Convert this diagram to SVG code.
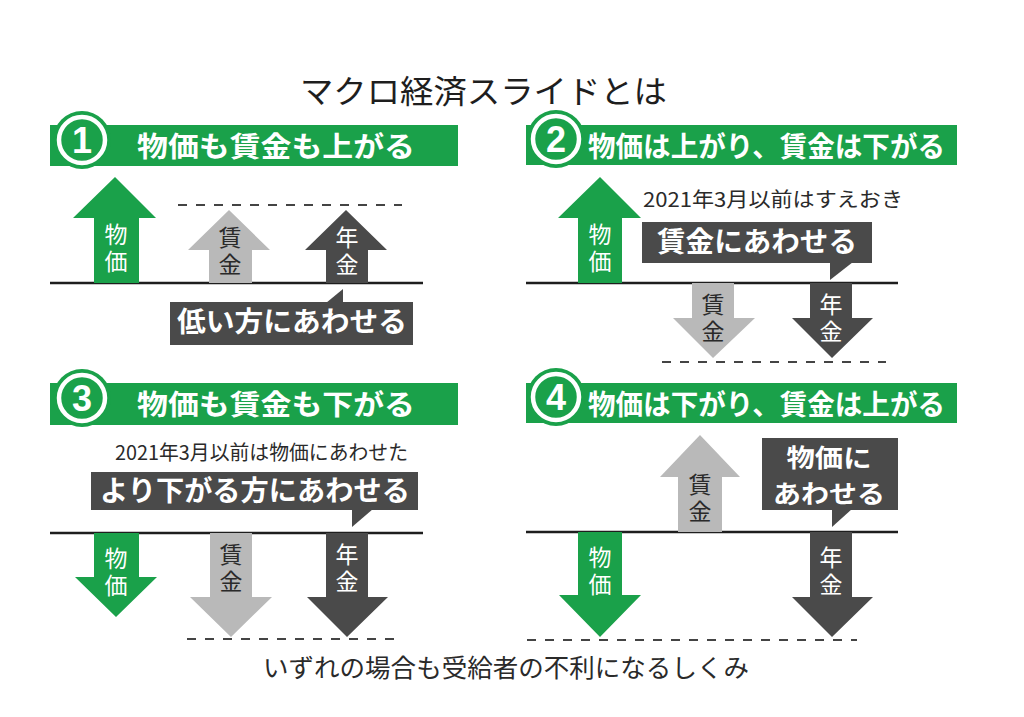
<svg xmlns="http://www.w3.org/2000/svg" width="1024" height="717" viewBox="0 0 1024 717">
<style>
.bg{fill:#ffffff}
.grn{fill:#1aa14a}
.lg{fill:#b9b9b9}
.dk{fill:#4a4a4a}
.base{stroke:#1e1e1e;stroke-width:2.5;fill:none}
.dash{stroke:#444;stroke-width:2;stroke-dasharray:9 9;fill:none}
.t{font-family:"Noto Sans CJK JP","Noto Sans CJK SC",sans-serif}
.title{font-size:32px;fill:#1e1e1e}
.ban{font-size:28px;font-weight:bold;fill:#fff}
.num{font-family:"Liberation Sans",Arial,sans-serif;font-size:36px;font-weight:bold;fill:#fff;text-anchor:middle}
.call{font-size:28px;font-weight:bold;fill:#fff}
.call2{font-size:25px;font-weight:bold;fill:#fff;text-anchor:middle}
.note{font-size:20px;fill:#2a2a2a}
.v{writing-mode:vertical-rl;text-anchor:middle;font-size:23px;letter-spacing:4px}
.lbw{fill:#fff}
.lbd{fill:#2a2a2a}
.foot{font-size:25px;fill:#2a2a2a}
</style>
<rect class="bg" x="0" y="0" width="1024" height="717"/>
<g id="title"><text class="t title" x="300" y="103" textLength="367" lengthAdjust="spacingAndGlyphs">マクロ経済スライドとは</text></g>

<g id="guides">
<line class="base" x1="50" y1="283" x2="423" y2="283"/>
<line class="dash" x1="178" y1="205" x2="402" y2="205"/>
<line class="base" x1="526" y1="283" x2="898" y2="283"/>
<line class="dash" x1="662" y1="362" x2="886" y2="362"/>
<line class="base" x1="50" y1="533" x2="423" y2="533"/>
<line class="dash" x1="187" y1="639" x2="400" y2="639"/>
<line class="base" x1="526" y1="532" x2="898" y2="532"/>
<line class="dash" x1="527" y1="640" x2="857" y2="640"/>
</g>

<!-- Panel 1 -->
<g id="banner1">
<rect class="grn" x="50" y="125" width="408" height="41"/>
<circle class="grn" cx="82" cy="140" r="29"/>
<circle cx="82" cy="140" r="23" fill="none" stroke="#fff" stroke-width="4.5"/>
<text class="num" x="82" y="153">1</text>
<text class="t ban" x="137" y="157" textLength="278" lengthAdjust="spacingAndGlyphs">物価も賃金も上がる</text>
</g>
<g id="p1-price"><polygon class="grn" points="94,283 94,218 73,218 115,177 156,218 139,218 139,283"/>
<text class="t v lbw" x="116" y="250">物価</text></g>
<g id="p1-wage"><polygon class="lg" points="209,283 209,250 188,250 229,210 270,250 252,250 252,283"/>
<text class="t v lbd" x="230" y="253">賃金</text></g>
<g id="p1-pension"><polygon class="dk" points="326,283 326,250 305,250 346,210 387,250 368,250 368,283"/>
<text class="t v lbw" x="347" y="253">年金</text></g>
<g id="p1-callout"><rect class="dk" x="170" y="302" width="243" height="43"/>
<polygon class="dk" points="326,303 343,303 343,289"/>
<text class="t call" x="177" y="332" textLength="230" lengthAdjust="spacingAndGlyphs">低い方にあわせる</text></g>

<!-- Panel 2 -->
<g id="banner2">
<rect class="grn" x="526" y="125" width="431" height="40"/>
<circle class="grn" cx="556" cy="139" r="29"/>
<circle cx="556" cy="139" r="23" fill="none" stroke="#fff" stroke-width="4.5"/>
<text class="num" x="556" y="152">2</text>
<text class="t ban" x="588" y="157" textLength="357" lengthAdjust="spacingAndGlyphs">物価は上がり、賃金は下がる</text>
</g>
<g id="p2-price"><polygon class="grn" points="578,283 578,218 558,218 600,177 641,218 622,218 622,283"/>
<text class="t v lbw" x="600" y="250">物価</text></g>
<g id="p2-note"><text class="t note" x="643" y="207" textLength="260" lengthAdjust="spacingAndGlyphs">2021年3月以前はすえおき</text></g>
<g id="p2-callout"><rect class="dk" x="642" y="222" width="230" height="41"/>
<polygon class="dk" points="830,262 853,262 830,280"/>
<text class="t call" x="657" y="252" textLength="200" lengthAdjust="spacingAndGlyphs">賃金にあわせる</text></g>
<g id="p2-wage"><polygon class="lg" points="692,283 692,318 673,318 713,358 755,318 734,318 734,283"/>
<text class="t v lbd" x="713" y="320">賃金</text></g>
<g id="p2-pension"><polygon class="dk" points="810,283 810,318 792,318 832,358 873,318 852,318 852,283"/>
<text class="t v lbw" x="831" y="320">年金</text></g>

<!-- Panel 3 -->
<g id="banner3">
<rect class="grn" x="50" y="383" width="408" height="42"/>
<circle class="grn" cx="82" cy="398" r="29"/>
<circle cx="82" cy="398" r="23" fill="none" stroke="#fff" stroke-width="4.5"/>
<text class="num" x="82" y="411">3</text>
<text class="t ban" x="137" y="415" textLength="278" lengthAdjust="spacingAndGlyphs">物価も賃金も下がる</text>
</g>
<g id="p3-note"><text class="t note" x="115" y="460" textLength="293" lengthAdjust="spacingAndGlyphs">2021年3月以前は物価にあわせた</text></g>
<g id="p3-callout"><rect class="dk" x="91" y="472" width="327" height="38"/>
<polygon class="dk" points="352,509 373,509 352,527"/>
<text class="t call" x="100" y="501" textLength="310" lengthAdjust="spacingAndGlyphs">より下がる方にあわせる</text></g>
<g id="p3-price"><polygon class="grn" points="94,533 94,577 75,577 116,617 157,577 139,577 139,533"/>
<text class="t v lbw" x="116" y="574">物価</text></g>
<g id="p3-wage"><polygon class="lg" points="210,533 210,597 190,597 231,637 272,597 252,597 252,533"/>
<text class="t v lbd" x="231" y="570">賃金</text></g>
<g id="p3-pension"><polygon class="dk" points="326,533 326,597 307,597 347,637 388,597 368,597 368,533"/>
<text class="t v lbw" x="347" y="570">年金</text></g>

<!-- Panel 4 -->
<g id="banner4">
<rect class="grn" x="526" y="383" width="431" height="40"/>
<circle class="grn" cx="556" cy="397" r="29"/>
<circle cx="556" cy="397" r="23" fill="none" stroke="#fff" stroke-width="4.5"/>
<text class="num" x="556" y="410">4</text>
<text class="t ban" x="588" y="415" textLength="357" lengthAdjust="spacingAndGlyphs">物価は下がり、賃金は上がる</text>
</g>
<g id="p4-wage"><polygon class="lg" points="678,532 678,477 660,477 700,435 740,477 722,477 722,532"/>
<text class="t v lbd" x="700" y="500">賃金</text></g>
<g id="p4-callout"><rect class="dk" x="762" y="438" width="136" height="72"/>
<polygon class="dk" points="832,509 852,509 832,527"/>
<text class="t call2" x="829" y="467" textLength="85" lengthAdjust="spacingAndGlyphs">物価に</text>
<text class="t call2" x="829" y="503" textLength="112" lengthAdjust="spacingAndGlyphs">あわせる</text></g>
<g id="p4-price"><polygon class="grn" points="578,532 578,595 559,595 600,637 641,595 622,595 622,532"/>
<text class="t v lbw" x="600" y="573">物価</text></g>
<g id="p4-pension"><polygon class="dk" points="810,532 810,597 792,597 832,637 873,597 852,597 852,532"/>
<text class="t v lbw" x="831" y="573">年金</text></g>

<g id="footer"><text class="t foot" x="263" y="677" textLength="486" lengthAdjust="spacingAndGlyphs">いずれの場合も受給者の不利になるしくみ</text></g>
</svg>
